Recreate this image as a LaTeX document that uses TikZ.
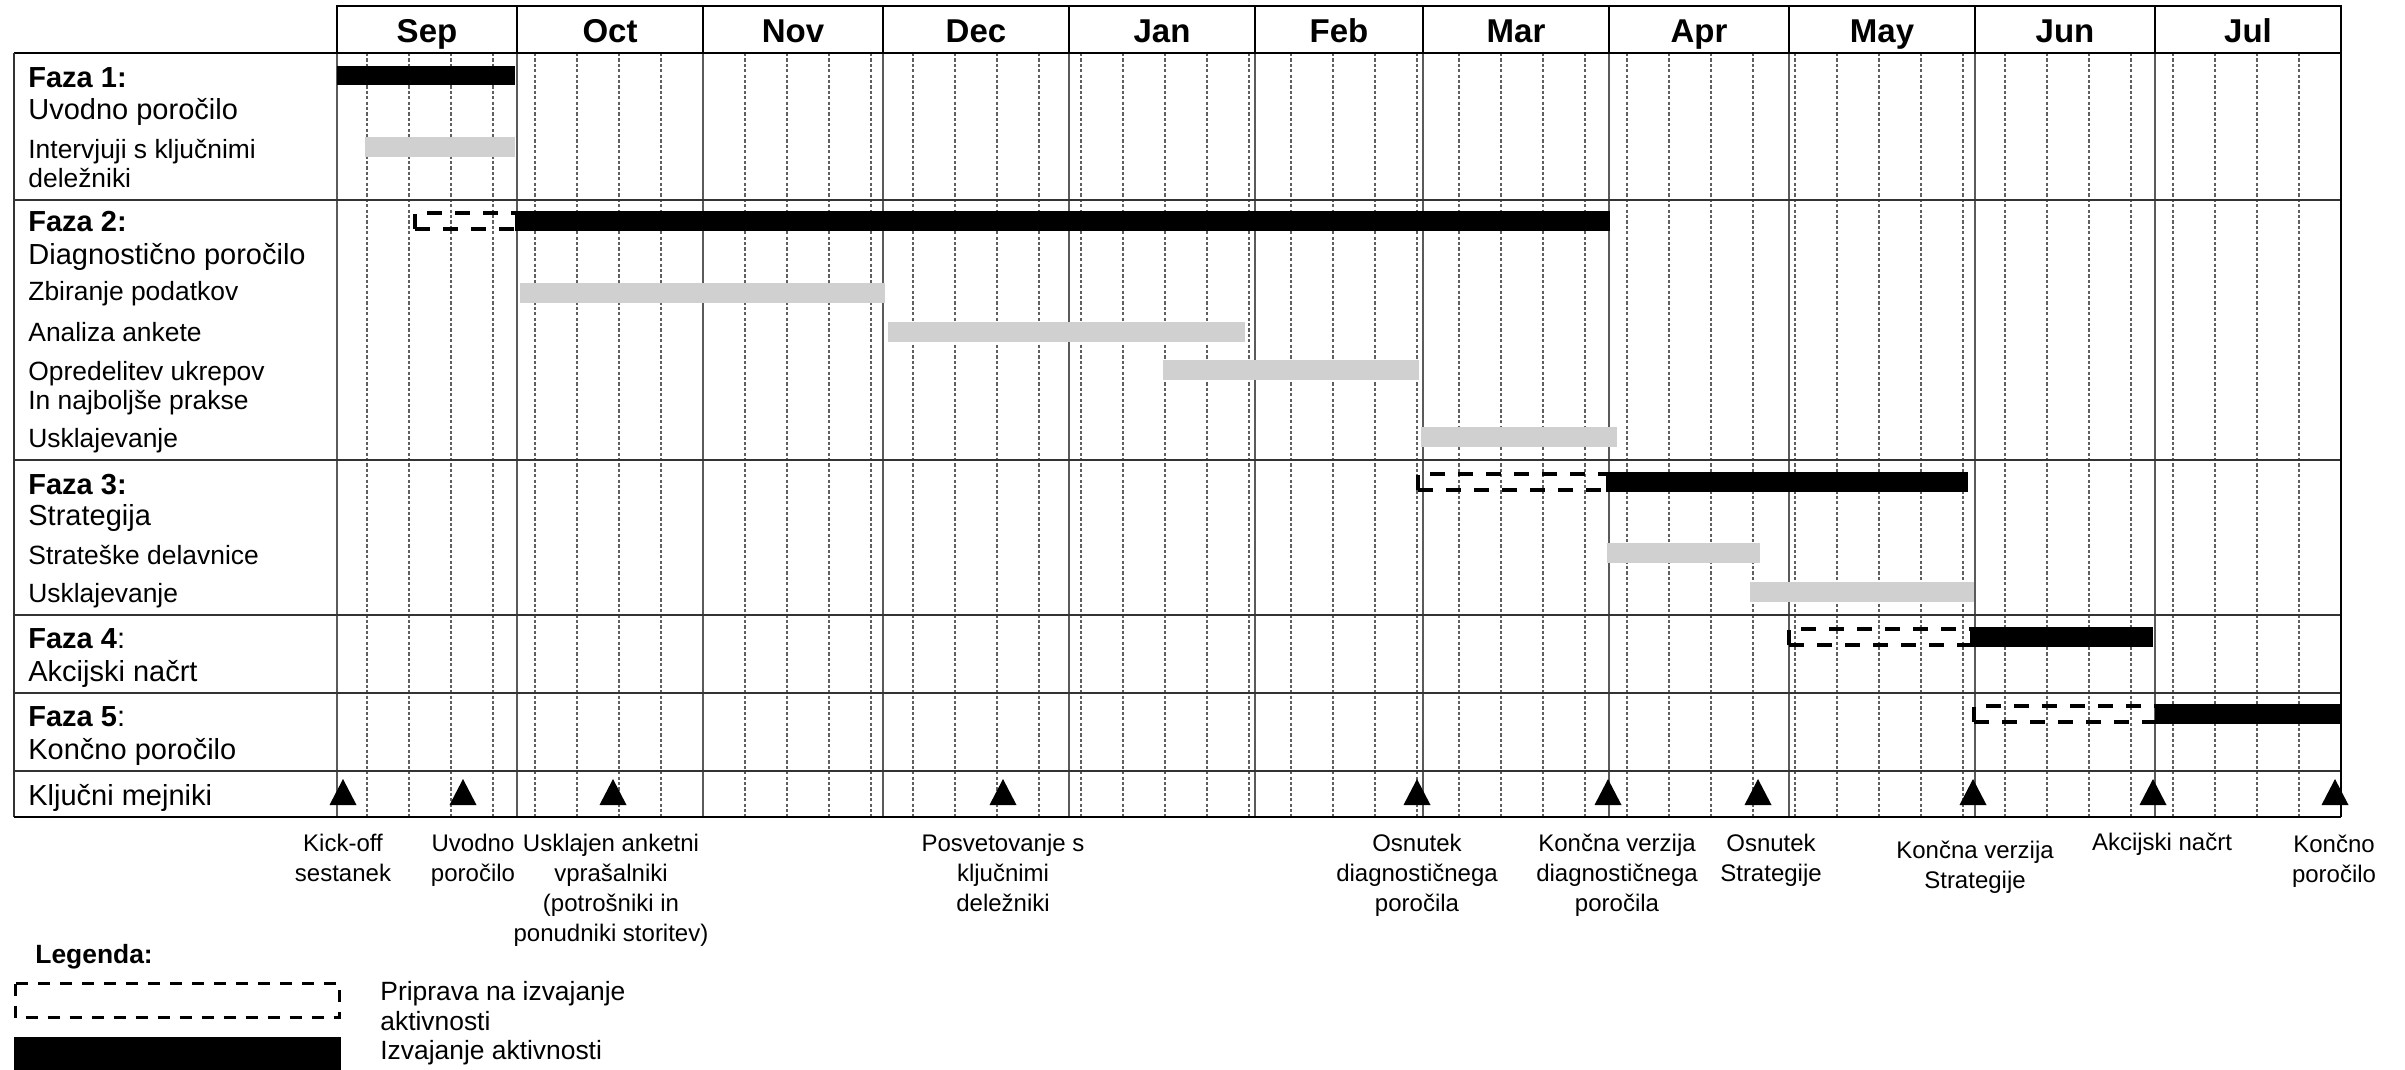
\documentclass[tikz,border=0pt]{standalone}
\usepackage{fontspec}
\setmainfont{Liberation Sans}
\definecolor{bargray}{RGB}{208,208,208}
\definecolor{gridgray}{RGB}{90,90,90}
\definecolor{weekgray}{RGB}{95,95,95}
\begin{document}
\begin{tikzpicture}[x=0.5pt,y=-0.5pt,
  mainlbl/.style={anchor=base west, inner sep=0, font=\fontsize{14.5}{17}\selectfont},
  sublbl/.style={anchor=base west, inner sep=0, font=\fontsize{13.2}{16}\selectfont},
  mslbl/.style={anchor=base, inner sep=0, align=center, font=\fontsize{12}{15}\selectfont},
  monthlbl/.style={anchor=base, inner sep=0, font=\bfseries\fontsize{16.5}{20}\selectfont},
  execbar/.style={fill=black},
  taskbar/.style={fill=bargray},
  prepbar/.style={draw=black, line width=2pt, dash pattern=on 7.5pt off 6.5pt},
  legprep/.style={draw=black, line width=1.5pt, dash pattern=on 6pt off 5pt},
  weekline/.style={draw=weekgray, line width=0.55pt, dash pattern=on 1.6pt off 1.1pt},
  monthline/.style={draw=gridgray, line width=0.7pt},
  rowline/.style={draw=black!80, line width=0.75pt},
  frameline/.style={draw=black, line width=1.1pt},
  milestone/.style={fill=black}]

\useasboundingbox (0,0) rectangle (2405,1070);

% weekly dashed lines
\foreach \k in {0,...,46} \draw[weekline] ({367+42*\k},53) -- ({367+42*\k},817);

% month lines in body
\foreach \m in {337,517,703,883,1069,1255,1423,1609,1789,1975,2155}
  \draw[monthline] (\m,53) -- (\m,817);

% row separators
\foreach \r in {200,460,615,693,771}
  \draw[rowline] (14,\r) -- (2341,\r);

% header
\draw[frameline] (337,6) rectangle (2341,53);
\draw[frameline] (14,53) -- (2341,53);
\foreach \a/\b/\n in {337/517/Sep,517/703/Oct,703/883/Nov,883/1069/Dec,1069/1255/Jan,1255/1423/Feb,1423/1609/Mar,1609/1789/Apr,1789/1975/May,1975/2155/Jun,2155/2341/Jul}{
  \draw[frameline] (\b,6) -- (\b,53);
  \node[monthlbl] (m\n) at ({(\a+\b)/2},42.5) {\n};
}

% outer frame
\draw[rowline] (14,53) -- (14,817);
\draw[frameline] (14,817) -- (2341,817);
\draw[frameline] (2341,6) -- (2341,817);

% ---- bars ----
% Faza 1
\fill[execbar] (337,66) rectangle (515,85);
\fill[taskbar] (365,137) rectangle (515,157);
% Faza 2
\draw[prepbar] (415,229) -- (415,213) -- (515,213);
\draw[prepbar] (415,229) -- (515,229);
\fill[execbar] (515,211) rectangle (1610,231);
\fill[taskbar] (520,283) rectangle (885,303);
\fill[taskbar] (888,322) rectangle (1245,342);
\fill[taskbar] (1163,360) rectangle (1419,380);
\fill[taskbar] (1421,427) rectangle (1617,447);
% Faza 3
\draw[prepbar] (1418,490) -- (1418,474) -- (1606,474);
\draw[prepbar] (1418,490) -- (1606,490);
\fill[execbar] (1606,472) rectangle (1968,492);
\fill[taskbar] (1607,543) rectangle (1760,563);
\fill[taskbar] (1750,582) rectangle (1974,602);
% Faza 4
\draw[prepbar] (1789,645) -- (1789,629) -- (1970,629);
\draw[prepbar] (1789,645) -- (1970,645);
\fill[execbar] (1970,627) rectangle (2153,647);
% Faza 5
\draw[prepbar] (1974,722) -- (1974,706) -- (2155,706);
\draw[prepbar] (1974,722) -- (2155,722);
\fill[execbar] (2155,704) rectangle (2341,724);

% milestones
\foreach \mx in {343,463,613,1003,1417,1608,1758,1973,2153,2335}
  \fill[milestone] ({\mx-13.5},805) -- (\mx,779) -- ({\mx+13.5},805) -- cycle;

% ---- left column labels ----
\node[mainlbl] (f1) at (28,87.4) {\textbf{Faza 1:}};
\node[mainlbl] (f1t) at (28,119.4) {Uvodno poročilo};
\node[sublbl] (f1a) at (28,158.5) {Intervjuji s ključnimi};
\node[sublbl] (f1b) at (28,187.5) {deležniki};
\node[mainlbl] (f2) at (28,231.4) {\textbf{Faza 2:}};
\node[mainlbl] (f2t) at (28,264.4) {Diagnostično poročilo};
\node[sublbl] (f2a) at (28,300.5) {Zbiranje podatkov};
\node[sublbl] (f2b) at (28,341.5) {Analiza ankete};
\node[sublbl] (f2c) at (28,380.5) {Opredelitev ukrepov};
\node[sublbl] (f2d) at (28,409.5) {In najboljše prakse};
\node[sublbl] (f2e) at (28,447.5) {Usklajevanje};
\node[mainlbl] (f3) at (28,494.4) {\textbf{Faza 3:}};
\node[mainlbl] (f3t) at (28,525) {Strategija};
\node[sublbl] (f3a) at (28,564) {Strateške delavnice};
\node[sublbl] (f3b) at (28,602.5) {Usklajevanje};
\node[mainlbl] (f4) at (28,648.4) {\textbf{Faza 4}:};
\node[mainlbl] (f4t) at (28,681.4) {Akcijski načrt};
\node[mainlbl] (f5) at (28,726.4) {\textbf{Faza 5}:};
\node[mainlbl] (f5t) at (28,759) {Končno poročilo};
\node[mainlbl] (km) at (28,805) {Ključni mejniki};

% ---- milestone labels (anchor = baseline of last line) ----
\node[mslbl] (l1) at (343,881) {Kick-off\\sestanek};
\node[mslbl] (l2) at (473,881) {Uvodno\\poročilo};
\node[mslbl] (l3) at (611,941) {Usklajen anketni\\vprašalniki\\(potrošniki in\\ponudniki storitev)};
\node[mslbl] (l4) at (1003,911) {Posvetovanje s\\ključnimi\\deležniki};
\node[mslbl] (l5) at (1417,911) {Osnutek\\diagnostičnega\\poročila};
\node[mslbl] (l6) at (1617,911) {Končna verzija\\diagnostičnega\\poročila};
\node[mslbl] (l7) at (1771,881) {Osnutek\\Strategije};
\node[mslbl] (l8) at (1975,888) {Končna verzija\\Strategije};
\node[mslbl] (l9) at (2162,850) {Akcijski načrt};
\node[mslbl] (l10) at (2334,882) {Končno\\poročilo};

% ---- legend ----
\node[anchor=base west, inner sep=0, font=\bfseries\fontsize{13.2}{16}\selectfont] (leg) at (35,963.5) {Legenda:};
\draw[legprep] (15.5,983.5) rectangle (339.5,1017.5);
\fill[execbar] (14,1037) rectangle (341,1070);
\node[sublbl] (lg1) at (380,1000) {Priprava na izvajanje};
\node[sublbl] (lg2) at (380,1030) {aktivnosti};
\node[sublbl] (lg3) at (380,1059) {Izvajanje aktivnosti};
\end{tikzpicture}
\end{document}
